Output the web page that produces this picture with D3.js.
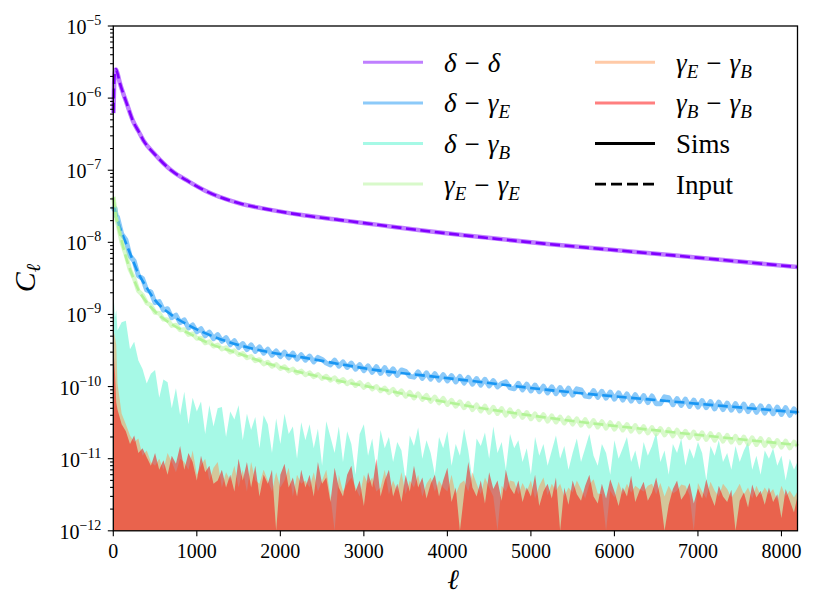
<!DOCTYPE html>
<html><head><meta charset="utf-8">
<script src="https://cdn.jsdelivr.net/npm/d3@7"></script>
<style>body{margin:0;background:#fff}svg{display:block}</style>
</head><body><svg id="c" width="822" height="616"></svg>
<script>
// ---------------- data ----------------
const UNIT = 1e-12; // noisy arrays are in units of 1e-12
const xTicks = [0,1000,2000,3000,4000,5000,6000,7000,8000];
const yExponents = [-12,-11,-10,-9,-8,-7,-6,-5];
const seriesColors = ["#8000ff","#1996f3","#4df3ce","#b2f396","#ff964f","#ff0000"];

// smooth input spectra
const ellSmooth = [2,10,20,32,50,80,120,160,240,300,360,500,700,900,1100,1500,1900,2300,2700,3150,3700,4200,5200,6700,8192];
const ddInput = [6.2e-7,1.6e-6,2.3e-6,2.5e-6,2.2e-6,1.6e-6,1.15e-6,8.5e-7,4.7e-7,3.5e-7,2.6e-7,1.65e-7,9.8e-8,7.0e-8,5.2e-8,3.5e-8,2.8e-8,2.35e-8,2.05e-8,1.76e-8,1.46e-8,1.25e-8,9.5e-9,6.6e-9,4.55e-9];
const ddSims  = ddInput;
const deInput = [3.0e-8,3.0e-8,2.8e-8,2.5e-8,2.1e-8,1.6e-8,1.2e-8,9.2e-9,5.4e-9,3.7e-9,2.8e-9,1.58e-9,9.8e-10,7.1e-10,5.5e-10,3.77e-10,2.95e-10,2.5e-10,2.06e-10,1.69e-10,1.43e-10,1.23e-10,9.0e-11,6.2e-11,4.4e-11];
const eeInput = [4.2e-8,3.6e-8,2.9e-8,2.3e-8,1.8e-8,1.3e-8,8.5e-9,5.8e-9,3.2e-9,2.2e-9,1.7e-9,1.1e-9,7.3e-10,5.5e-10,4.2e-10,2.88e-10,2.0e-10,1.52e-10,1.2e-10,9.5e-11,7.0e-11,5.5e-11,3.7e-11,2.33e-11,1.55e-11];

// multipoles of the noisy simulated spectra
const ellNoisy = [2,8,20,35].concat(d3.range(50,8151,50),[8191]);

// δ−γE sims (1e-12)
const deSims = [
31500,28800,29500,23200,22400,13100,10900,6500,5500,3450,
3150,2180,2050,1460,1510,1150,1200,900,980,770,
840,650,715,575,635,505,570,462,525,425,
478,380,432,348,395,326,378,308,355,290,
330,272,312,260,300,250,290,240,276,232,
265,220,254,238,212,200,232,192,220,184,
212,174,202,166,193,158,189,152,183,149,
176,143,170,162,139,135,160,130,155,127,
151,123,146,120,142,116,138,112,134,108,
129,105,126,102,121,99,110,116,96,93,
111,90,108,87,105,85,101,82,99,80,
97,78,95,76,93,90,74,72,88,71,
86,69,84,67,82,65,79,63,77,62,
75,60,74,58,58,72,70,56,68,55,
67,53,65,52,64,51,62,49,61,48,
59,47,58,46,57,45,55,44,54,43,
53,42,52,41,51,40,49,42];

// γE−γE sims (1e-12)
const eeSims = [
43000,36500,30000,21500,18500,10100,6700,4150,3150,2120,
1860,1440,1340,1060,1040,855,845,700,715,610,
620,525,540,465,472,402,420,362,380,330,
347,300,316,276,289,250,263,227,238,205,
218,190,203,177,189,164,176,154,165,145,
156,136,148,129,140,122,133,115,126,109,
120,103,114,97,108,92,101,87,96,82,
92,77,88,73,84,69,80,66,76,62,
72,59,69,56,65,53,62,50.5,59,47.5,
56,45.5,54,43.5,52,42,50,40,48,38.5,
45.5,37,44,35.5,42,34.5,41,33,39.5,32,
38,31,37,30,36,29,35,28.2,34,27.3,
32.8,26.4,31.8,25.5,30.8,24.8,30,24,29,23.3,
28,22.6,27.2,21.9,26.4,21.2,25.7,20.6,25,20,
24.2,19.5,23.6,18.9,23,18.4,22.4,17.9,21.8,17.4,
21.2,16.9,20.6,16.5,20.1,16,19.6,15.6,19.1,15.2,
18.5,14.8,18,14.4,17.6,14,17.1,14.8];

// δ−γB sims (1e-12)
const dbSims = [
4200,1500,900,1150,600,780,820,330,420,230,
175,110,150,170,70,125,115,50,95,40,
85,30,70,45,62,22,55,28,50,52,
20,45,35,55,18,42,25,38,14,40,
30,12,36,16,42,22,28,10,32,18,
30,14,26,8,33,20,12,28,9,24,
16,6,22,30,11,19,7,25,14,20,
9,17,13,5,21,15,27,10,18,12,
6,20,14,24,8,16,11,26,13,5,
19,15,23,10,28,12,17,7,22,14,
18,9,14,6,20,11,16,8,13,21,
10,15,7,12,19,9,14,22,11,8,
16,12,6,18,10,14,20,9,13,7,
17,11,15,23,9,13,6,16,12,19,
8,14,10,17,12,5,15,11,18,9,
12,7,15,9,13,17,7,11,6,13,
10,14,8,11,5,10,7,9];

// γE−γB sims (1e-12)
const ebSims = [
600,560,480,380,110,42,30,21,17,19,
11,13,9,8,10,7,12,9,6.5,10,
9,7,13,6,8,10,5,7.5,9,4,
6.5,5,8,4,7,3.5,9,5,4.5,7,
5,3.5,6.5,4,5,7.5,3,6,4.5,5,
4,6.5,3.5,5,7,3,0.5,6,3.5,4.5,
5.5,4,3,6,4.5,5.5,3.5,4,7,3.2,
5,3.5,6.5,3.2,5,4,6,3,4.5,5.5,
3.5,5,4,3.5,6,3.2,4.5,5,3.5,6.5,
4.5,3.2,5.5,4,3,0.5,4.2,3.5,5,4.8,
3.2,4.6,3.5,5,2.8,4.2,5.5,3.1,4.5,3.6,
4.5,3,4,3.4,5,3.8,2.8,4.4,5.2,3.3,
3.2,0.5,3.6,2.9,4.8,3.2,4.5,3.4,4.2,3.8,
3.5,4.2,4.5,3.2,4.6,3,4.2,3.3,3.6,4.4,
4.2,3.1,0.5,4.6,3.5,2.8,4.8,3.6,3,4.5,
3.8,2.9,3.5,4.5,3.2,4,2.8,4.2,3.1,4,
3.2,3.8,2.6,4.2,3,3.6,2.9,3.5];

// γB−γB sims (1e-12)
const bbSims = [
480,260,150,60,48,30,24,16,21,12,
14,10.5,8,12,7,9.5,6,11,8.5,15,
7,12,9,5,11,6.5,8,4.5,5,7,
4,6,3.5,10,5,9,4,8,3,6,
4.5,7,0.5,6,8.5,4,5.5,3,7,4,
6,3,9,4.5,5.5,2.5,7.5,4,3,6,
8,3.5,5,2.2,6.5,4,10,3,5,7,
3,4.5,2.5,6,3.5,8,4,5.5,2.8,4.5,
6,3,5,7.5,2.5,4,0.5,3.2,9,4,
3,5,2.4,6.5,3.8,5,2.6,7,4,3.2,
5,2.5,4,3,6,2.2,3.5,4.5,2.8,5.5,
0.5,4,2.3,5,3.2,2.6,4.2,6,3,2.4,
4.5,2.8,5.2,3.5,2.2,4,3,5.8,2.5,3.6,
4.8,2.6,3.4,5.5,2.9,0.5,2.3,3.8,5,2.7,
3.3,4.6,2.4,3.9,2.8,5.2,3.1,2.2,4.2,3,
2.5,3.7,0.5,2.6,3.4,2.1,4.4,2.9,3.6,2.3,
4,2.5,3.2,1.5,3.8,2.6,1.8,3];

// ---------------- drawing ----------------
const svg = d3.select('#c');
const L = 113.3, R = 797.5, T = 26, B = 530.8;
const x = d3.scaleLinear().domain([0,8192]).range([L,R]);
const y = d3.scaleLog().domain([1e-12,1e-5]).range([B,T]).clamp(true);

// ---- marks ----
const plot = svg.append('g');
const smoothLine = d3.line().x((d,i)=>x(ellSmooth[i])).y(d=>y(d)).curve(d3.curveMonotoneX);
const noisyLine = d3.line().x((d,i)=>x(ellNoisy[i])).y(d=>y(d*UNIT));
const noisyArea = d3.area().x((d,i)=>x(ellNoisy[i])).y0(B).y1(d=>y(d*UNIT));

function simLine(path, color, w){
  plot.append('path').attr('d',path).attr('fill','none').attr('stroke',color)
    .attr('stroke-width',w).attr('stroke-opacity',0.5).attr('stroke-linejoin','round');
}
function inputLine(data, color){
  plot.append('path').attr('d',smoothLine(data)).attr('fill','none').attr('stroke',color)
    .attr('stroke-width',2.6).attr('stroke-dasharray','10,4.5');
}
function simArea(data, color){
  plot.append('path').attr('d',noisyArea(data)).attr('fill',color).attr('fill-opacity',0.5).attr('stroke','none');
}
simLine(smoothLine(ddSims), seriesColors[0], 4.5);
inputLine(ddInput, seriesColors[0]);
simLine(noisyLine(deSims), seriesColors[1], 5);
inputLine(deInput, seriesColors[1]);
simArea(dbSims, seriesColors[2]);
simLine(noisyLine(eeSims), seriesColors[3], 4.5);
inputLine(eeInput, seriesColors[3]);
simArea(ebSims, seriesColors[4]);
simArea(bbSims, seriesColors[5]);

// ticks drawn from the scales
const majors = yExponents.map(e=>Math.pow(10,e));
const minors = [];
yExponents.slice(0,-1).forEach(e=>{ for(let k=2;k<=9;k++) minors.push(k*Math.pow(10,e)); });
const tk = svg.append('g').attr('stroke','#000').attr('stroke-width',1.1);
xTicks.forEach(d=>tk.append('line').attr('x1',x(d)).attr('x2',x(d)).attr('y1',B).attr('y2',B+5.5));
majors.forEach(d=>tk.append('line').attr('x1',L-5.5).attr('x2',L).attr('y1',y(d)).attr('y2',y(d)));
minors.forEach(d=>tk.append('line').attr('x1',L-3.2).attr('x2',L).attr('y1',y(d)).attr('y2',y(d)));

svg.append('rect').attr('x',L).attr('y',T).attr('width',R-L).attr('height',B-T)
  .attr('fill','none').attr('stroke','#000').attr('stroke-width',1.3);

// ---- texts ----
function txt(){
  return svg.append('text').attr('style','font-family:"Liberation Serif"').attr('font-family','Liberation Serif');
}
xTicks.forEach(d=>{
  txt().attr('x',x(d)).attr('y',B+27).attr('text-anchor','middle').attr('font-size',20).text(String(d));
});
yExponents.forEach(d=>{
  const t = txt().attr('x',L-12).attr('y',y(Math.pow(10,d))+8).attr('text-anchor','end').attr('font-size',20);
  t.append('tspan').text('10');
  t.append('tspan').attr('dy',-9).attr('font-size',14).text('−'+Math.abs(d));
});
const yt = txt().attr('transform','translate(35,278) rotate(-90)').attr('text-anchor','middle');
yt.append('tspan').attr('font-size',30).attr('font-style','italic').text('C');
yt.append('tspan').attr('font-size',20).attr('font-style','italic').attr('dy',5).text('ℓ');
txt().attr('x',453).attr('y',589).attr('text-anchor','middle').attr('font-size',28).attr('font-style','italic').text('ℓ');

function mathLabel(t, parts){
  parts.forEach((p,i)=>{
    if(i>0){ t.append('tspan').attr('dy', parts[i-1][1]? -6 : 0).attr('dx',8).text('−'); }
    t.append('tspan').attr('dx', i>0?8:0).attr('font-style','italic').text(p[0]);
    if(p[1]) t.append('tspan').attr('font-style','italic').attr('font-size',19).attr('dy',6).text(p[1]);
  });
}
const legendEntries = [
  {col:0,row:0,color:seriesColors[0],parts:[['δ',''],['δ','']]},
  {col:0,row:1,color:seriesColors[1],parts:[['δ',''],['γ','E']]},
  {col:0,row:2,color:seriesColors[2],parts:[['δ',''],['γ','B']]},
  {col:0,row:3,color:seriesColors[3],parts:[['γ','E'],['γ','E']]},
  {col:1,row:0,color:seriesColors[4],parts:[['γ','E'],['γ','B']]},
  {col:1,row:1,color:seriesColors[5],parts:[['γ','B'],['γ','B']]},
  {col:1,row:2,color:'#000',text:'Sims'},
  {col:1,row:3,color:'#000',text:'Input',dash:true}
];
const colX = [363, 595], rowY0 = 62.3, rowDy = 40.6;
legendEntries.forEach(e=>{
  const ly = rowY0 + e.row*rowDy, lx = colX[e.col];
  const ln = svg.append('line').attr('x1',lx).attr('x2',lx+60).attr('y1',ly).attr('y2',ly)
    .attr('stroke',e.color).attr('stroke-width',3);
  if(e.text){
    if(e.dash) ln.attr('stroke-dasharray','11,5').attr('stroke-width',2.8);
  } else ln.attr('stroke-opacity',0.5);
  const t = txt().attr('x',lx+81).attr('y',ly+9.5).attr('font-size',27);
  if(e.text) t.text(e.text); else mathLabel(t, e.parts);
});
</script>
</body></html>
